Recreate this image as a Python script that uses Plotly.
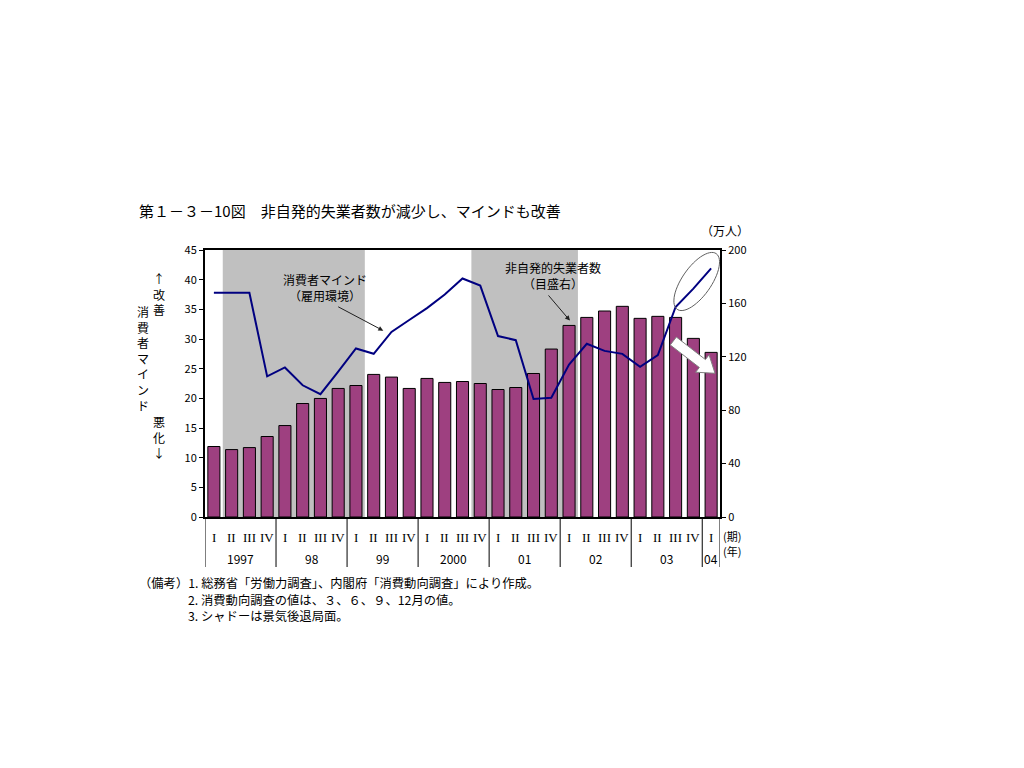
import numpy as np
import plotly.graph_objects as go

# ---------------- data ----------------
quarters = ["I", "II", "III", "IV"] * 7 + ["I"]
year_labels = ["1997", "98", "99", "2000", "01", "02", "03", "04"]
year_sizes = [4, 4, 4, 4, 4, 4, 4, 1]

# 非自発的失業者数（万人, right axis)
unemployed = [52.8, 50.5, 52.0, 60.3, 68.5, 85.0, 88.8, 96.3, 98.5,
              106.8, 104.8, 96.3, 103.8, 100.8, 101.5, 100.0, 95.5, 97.0,
              107.5, 125.8, 143.5, 149.5, 154.3, 157.8, 148.8, 150.3, 149.5,
              133.8, 123.3]
# 消費者マインド（雇用環境, left axis)
mind = [37.8, 37.8, 37.8, 23.7, 25.2, 22.2, 20.7, 24.5, 28.4,
        27.5, 31.2, 33.2, 35.2, 37.5, 40.2, 39.0, 30.5, 29.8,
        19.9, 20.1, 25.7, 29.2, 28.0, 27.5, 25.3, 27.3, 35.4,
        38.5, 41.9]
# recession (shaded) periods: first and last quarter index
recessions = [(1, 8), (15, 20)]

notes = ["（備考）1. 総務省「労働力調査」、内閣府「消費動向調査」により作成。",
         "2. 消費動向調査の値は、３、６、９、12月の値。",
         "3. シャドーは景気後退局面。"]

n = len(unemployed)
xs = list(range(n))

FONT = "Noto Sans CJK JP"
SERIF = "Liberation Serif"
BAR_COLOR = "#9E4080"
LINE_COLOR = "#000080"

OFF = 8  # browser default body margin
W, H = 1024 - 2 * OFF, 768 - 2 * OFF
L, R, T, B = 205, 720, 250, 517  # plot area in screen pixels
ml, mr, mt, mb = L - OFF, (W + OFF) - R, T - OFF, (H + OFF) - B


def px(x):
    return (x - L) / (R - L)


def py(y):
    return (B - y) / (B - T)


fig = go.Figure()
fig.add_trace(go.Bar(x=xs, y=unemployed, yaxis="y", marker=dict(color=BAR_COLOR, line=dict(color="black", width=1)),
                     width=0.68, showlegend=False, hoverinfo="skip"))
fig.add_trace(go.Scatter(x=xs, y=mind, yaxis="y2", mode="lines", line=dict(color=LINE_COLOR, width=2),
                         showlegend=False, hoverinfo="skip"))

shapes = []
for a, b in recessions:
    shapes.append(dict(type="rect", xref="x", yref="paper", x0=a - 0.5, x1=b + 0.5, y0=0, y1=1,
                       fillcolor="#C0C0C0", line=dict(width=0), layer="below"))

# category dividers below the axis
pos = -0.5
div = [pos]
for s in year_sizes:
    pos += s
    div.append(pos)
for d in div:
    shapes.append(dict(type="line", xref="x", yref="paper", x0=d, x1=d, y0=0, y1=py(567),
                       line=dict(color="black", width=1)))

# ellipse
cx, cy, ea, eb, th = 696.7, 281.5, 34, 14.5, np.deg2rad(55)
phi = np.linspace(0, 2 * np.pi, 60)
ex = cx + ea * np.cos(phi) * np.cos(th) - eb * np.sin(phi) * np.sin(th)
ey = cy - (ea * np.cos(phi) * np.sin(th) + eb * np.sin(phi) * np.cos(th))
path = "M " + " L ".join(f"{px(a):.4f},{py(b):.4f}" for a, b in zip(ex, ey)) + " Z"
shapes.append(dict(type="path", xref="paper", yref="paper", path=path, line=dict(color="#606060", width=1)))

# white block arrow
S = np.array([673.3, 341.0])
Tp = np.array([715.0, 373.3])
u = (Tp - S) / np.linalg.norm(Tp - S)
nv = np.array([u[1], -u[0]])
Hh = Tp - 16 * u
pts = [S + 5 * nv, Hh + 5 * nv, Hh + 11 * nv, Tp, Hh - 11 * nv, Hh - 5 * nv, S - 5 * nv]
path = "M " + " L ".join(f"{px(p[0]):.4f},{py(p[1]):.4f}" for p in pts) + " Z"
shapes.append(dict(type="path", xref="paper", yref="paper", path=path, fillcolor="white",
                   line=dict(color="#808080", width=1), layer="above"))

ann = []
# quarter labels
for i, q in enumerate(quarters):
    ann.append(dict(x=i, y=py(537), xref="x", yref="paper", text=q, showarrow=False,
                    font=dict(size=13, family=SERIF, color="black"), xanchor="center", yanchor="middle"))
# year labels
start = 0
for lab, s in zip(year_labels, year_sizes):
    ann.append(dict(x=start + (s - 1) / 2, y=py(558), xref="x", yref="paper", text=lab, showarrow=False,
                    font=dict(size=12, family=FONT, color="black"), xanchor="center", yanchor="middle"))
    start += s
ann.append(dict(x=px(721), y=py(536), xref="paper", yref="paper", text="(期)", showarrow=False,
                font=dict(size=11, family=FONT, color="black"), xanchor="left", yanchor="middle"))
ann.append(dict(x=px(721), y=py(551), xref="paper", yref="paper", text="(年)", showarrow=False,
                font=dict(size=11, family=FONT, color="black"), xanchor="left", yanchor="middle"))

# title
ann.append(dict(x=px(137), y=py(210), xref="paper", yref="paper",
                text="第１－３－10図　非自発的失業者数が減少し、マインドも改善", showarrow=False,
                font=dict(size=15, family=FONT, color="black"), xanchor="left", yanchor="middle"))
ann.append(dict(x=px(725), y=py(230), xref="paper", yref="paper", text="（万人）", showarrow=False,
                font=dict(size=12, family=FONT, color="black"), xanchor="center", yanchor="middle"))

# left axis vertical title
ann.append(dict(x=px(143), y=py(358), xref="paper", yref="paper", text="<br>".join("消費者マインド"),
                showarrow=False, font=dict(size=12, family=FONT, color="black"), xanchor="center", yanchor="middle"))
ann.append(dict(x=px(159), y=py(294), xref="paper", yref="paper", text="↑<br>改<br>善",
                showarrow=False, font=dict(size=12, family=FONT, color="black"), xanchor="center", yanchor="middle"))
ann.append(dict(x=px(159), y=py(437), xref="paper", yref="paper", text="悪<br>化<br>↓",
                showarrow=False, font=dict(size=12, family=FONT, color="black"), xanchor="center", yanchor="middle"))

# series annotations
ann.append(dict(x=6.26, y=38.6, xref="x", yref="y2", text="消費者マインド<br>（雇用環境）", showarrow=False,
                font=dict(size=12, family=FONT, color="black"), xanchor="center", yanchor="middle"))
ann.append(dict(x=9.54, y=31.4, xref="x", yref="y2", text="", showarrow=True, ax=-46.6, ay=-24.7,
                arrowhead=2, arrowsize=1, arrowwidth=1, arrowcolor="#202020"))
ann.append(dict(x=19.1, y=40.7, xref="x", yref="y2", text="非自発的失業者数<br>（目盛右）", showarrow=False,
                font=dict(size=12, family=FONT, color="black"), xanchor="center", yanchor="middle"))
ann.append(dict(x=20.05, y=33.1, xref="x", yref="y2", text="", showarrow=True, ax=-22.7, ay=-26.7,
                arrowhead=2, arrowsize=1, arrowwidth=1, arrowcolor="#202020"))

# notes
for txt, (nx, ny) in zip(notes, [(137, 583), (186, 600), (186, 616)]):
    ann.append(dict(x=px(nx), y=py(ny), xref="paper", yref="paper", text=txt, showarrow=False,
                    font=dict(size=12.3, family=FONT, color="black"), xanchor="left", yanchor="middle"))

fig.update_layout(
    width=W, height=H, autosize=False,
    margin=dict(l=ml, r=mr, t=mt, b=mb, pad=0),
    paper_bgcolor="white", plot_bgcolor="white",
    bargap=0.32,
    font=dict(family=FONT, size=11, color="black"),
    xaxis=dict(range=[-0.5, n - 0.5], showticklabels=False, ticks="", showgrid=False, zeroline=False,
               showline=True, linecolor="black", linewidth=2, mirror=True, fixedrange=True),
    yaxis=dict(range=[0, 200], tickvals=[0, 40, 80, 120, 160, 200], side="right", ticks="outside", ticklen=4,
               tickcolor="black", showgrid=False, zeroline=False, showline=True, linecolor="black", linewidth=2,
               tickfont=dict(size=11, family=FONT)),
    yaxis2=dict(range=[0, 45], dtick=5, side="left", overlaying="y", ticks="outside", ticklen=4,
                tickcolor="black", showgrid=False, zeroline=False, showline=True, linecolor="black", linewidth=2,
                tickfont=dict(size=11, family=FONT)),
    shapes=shapes, annotations=ann,
)

fig.write_html("out.html")
